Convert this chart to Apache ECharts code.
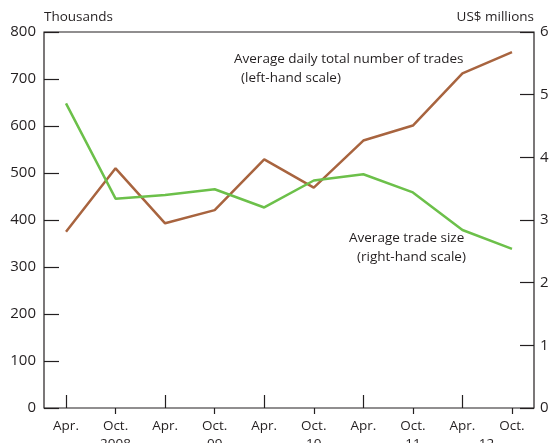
<!DOCTYPE html>
<html>
<head>
<meta charset="utf-8">
<script src="https://cdn.jsdelivr.net/npm/echarts@6/dist/echarts.min.js"></script>
<style>
  html, body { margin: 0; padding: 0; background: #fff; }
  #chart { width: 551px; height: 443px; }
</style>
</head>
<body>
<div id="chart"></div>
<script>
// half-yearly observations, Apr. 2008 to Oct. 2012
const months = ['Apr.', 'Oct.', 'Apr.', 'Oct.', 'Apr.', 'Oct.', 'Apr.', 'Oct.', 'Apr.', 'Oct.']
const years = ['', '2008', '', '09', '', '10', '', '11', '12', '']
const leftTicks = [0, 100, 200, 300, 400, 500, 600, 700, 800]
const rightTicks = [0, 1, 2, 3, 4, 5, 6]

// thousands, left-hand scale
const tradesCount = [375, 510, 393, 421, 529, 469, 569, 601, 712, 757]
// US$ millions, right-hand scale
const tradeSize = [4.86, 3.34, 3.40, 3.49, 3.20, 3.63, 3.73, 3.44, 2.84, 2.54]

const ink = '#231f20'
const font = 'Open Sans'
const brown = '#a8643f'
const green = '#6cc04a'

const myChart = echarts.init(document.getElementById('chart'), null, { renderer: 'canvas' })

const monthLabel = (value, index) => {
  const y = years[index]
  if (!y) return value
  // the "12" sits between Apr. and Oct. in the original
  if (index === 8) return '{m|' + value + '}\n{s|' + y + '}'
  return '{m|' + value + '}\n{m|' + y + '}'
}

const options = {
  animation: false,
  textStyle: { fontFamily: font, color: ink },
  grid: [
    // frame only
    { left: 44, right: 17, top: 32, bottom: 35, show: true, borderColor: ink, borderWidth: 1.2, outerBoundsMode: 'none' },
    // data area
    { left: 66, right: 39, top: 32, bottom: 35, outerBoundsMode: 'none' },
  ],
  xAxis: [
    { gridIndex: 0, type: 'value', show: false },
    {
      gridIndex: 1,
      type: 'category',
      data: months,
      boundaryGap: false,
      axisLine: { show: false },
      axisTick: {
        inside: true,
        length: 13,
        alignWithLabel: true,
        interval: (i) => i % 2 === 0,
        lineStyle: { color: ink, width: 1.2 },
      },
      axisLabel: {
        interval: 0,
        margin: 9,
        fontSize: 13.5,
        color: ink,
        lineHeight: 18,
        formatter: monthLabel,
        rich: {
          m: { fontSize: 13.5, color: ink, lineHeight: 18 },
          s: { fontSize: 13.5, color: ink, lineHeight: 18, padding: [0, 0, 0, 48] },
        },
      },
    },
    {
      gridIndex: 1,
      type: 'category',
      data: months,
      boundaryGap: false,
      axisLine: { show: false },
      axisTick: {
        inside: true,
        length: 6,
        alignWithLabel: true,
        interval: (i) => i % 2 === 1,
        lineStyle: { color: ink, width: 1.2 },
      },
      axisLabel: { show: false },
    },
  ],
  yAxis: [
    { gridIndex: 0, type: 'value', show: false },
    {
      gridIndex: 1,
      type: 'value',
      position: 'left',
      offset: 22,
      min: leftTicks[0],
      max: leftTicks[leftTicks.length - 1],
      interval: 100,
      name: 'Thousands',
      nameGap: 8,
      nameTextStyle: { align: 'left', fontSize: 13.5, color: ink },
      axisLine: { show: false },
      axisTick: { show: true, inside: true, length: 15, lineStyle: { color: ink, width: 1.2 } },
      splitLine: { show: false },
      axisLabel: { fontSize: 15, color: ink, margin: 8 },
    },
    {
      gridIndex: 1,
      type: 'value',
      position: 'right',
      offset: 22,
      min: rightTicks[0],
      max: rightTicks[rightTicks.length - 1],
      interval: 1,
      name: 'US$ millions',
      nameGap: 8,
      nameTextStyle: { align: 'right', fontSize: 13.5, color: ink },
      axisLine: { show: false },
      axisTick: { show: true, inside: true, length: 14, lineStyle: { color: ink, width: 1.2 } },
      splitLine: { show: false },
      axisLabel: { fontSize: 15, color: ink, margin: 6 },
    },
  ],
  series: [
    {
      name: 'Average daily total number of trades',
      type: 'line',
      xAxisIndex: 1,
      yAxisIndex: 1,
      data: tradesCount,
      symbol: 'none',
      lineStyle: { color: brown, width: 2.5 },
      color: brown,
      z: 3,
    },
    {
      name: 'Average trade size',
      type: 'line',
      xAxisIndex: 1,
      yAxisIndex: 2,
      data: tradeSize,
      symbol: 'none',
      lineStyle: { color: green, width: 2.5 },
      color: green,
      z: 4,
    },
  ],
  graphic: [
    { type: 'text', left: 234, top: 52, style: { text: 'Average daily total number of trades', font: '13.5px "Open Sans"', fill: ink } },
    { type: 'text', left: 241, top: 71, style: { text: '(left-hand scale)', font: '13.5px "Open Sans"', fill: ink } },
    { type: 'text', left: 349, top: 231, style: { text: 'Average trade size', font: '13.5px "Open Sans"', fill: ink } },
    { type: 'text', left: 357, top: 250, style: { text: '(right-hand scale)', font: '13.5px "Open Sans"', fill: ink } },
  ],
}

myChart.setOption(options)
</script>
</body>
</html>
